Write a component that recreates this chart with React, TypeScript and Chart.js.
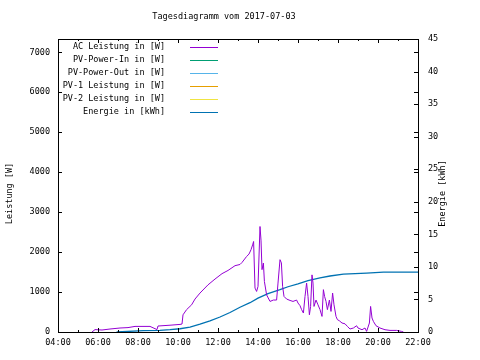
import { useEffect, useRef } from "react";
import { Chart, registerables } from "chart.js";

Chart.register(...registerables);

const TITLE = "Tagesdiagramm vom 2017-07-03";
const LEFT_AXIS_TITLE = "Leistung [W]";
const RIGHT_AXIS_TITLE = "Energie [kWh]";

// time in hours of day
const acTimes = [
  5.7, 5.85, 6.2, 6.6, 7.1, 7.5, 7.85, 8.3, 8.6, 8.95, 9.0, 9.6, 10.1, 10.2, 10.25, 10.43, 10.68, 10.85,
  11.1, 11.5, 11.85, 12.2, 12.5, 12.85, 13.1, 13.2, 13.43, 13.55, 13.65, 13.73, 13.78, 13.85, 13.93, 14.0,
  14.1, 14.15, 14.2, 14.27, 14.32, 14.43, 14.6, 14.77, 14.93, 15.0, 15.1, 15.17, 15.23, 15.3, 15.43, 15.6,
  15.75, 15.93, 16.0, 16.1, 16.18, 16.27, 16.35, 16.43, 16.5, 16.57, 16.63, 16.7, 16.75, 16.8, 16.9, 17.0,
  17.1, 17.2, 17.27, 17.33, 17.4, 17.47, 17.57, 17.65, 17.73, 17.8, 17.9, 17.97, 18.07, 18.2, 18.35, 18.47,
  18.6, 18.77, 18.93, 19.0, 19.2, 19.35, 19.43, 19.57, 19.63, 19.7, 19.77, 19.9, 20.1, 20.35, 20.6, 20.93,
  21.18, 21.27,
];
const acPower = [
  0, 60, 50, 75, 100, 110, 140, 140, 140, 60, 150, 170, 190, 200, 430, 560, 680, 825,
  975, 1180, 1325, 1460, 1540, 1660, 1690, 1740, 1890, 1950, 2060, 2180, 2265, 1100, 1015, 1140,
  2640, 2300, 1560, 1725, 1265, 930, 765, 800, 800, 1225, 1810, 1730, 1140, 890, 825, 790,
  765, 800, 725, 660, 560, 475, 890, 1225, 890, 430, 640, 1430, 1225, 640, 800, 680,
  560, 390, 1060, 890, 765, 560, 800, 515, 975, 680, 390, 310, 280, 225, 205, 140,
  75, 100, 157, 100, 57, 100, 15, 225, 640, 350, 265, 157, 100, 57, 40, 40,
  15, 0,
];

const energyTimes = [
  6.93, 8.27, 9.1, 9.6, 10.1, 10.6, 11.1, 11.6, 12.1, 12.6, 13.1, 13.6, 14.0, 14.5, 15.1, 15.5,
  16.0, 16.5, 17.1, 17.6, 18.27, 19.43, 20.27, 22.0,
];
const energyKWh = [
  0, 0.2, 0.25, 0.35, 0.5, 0.75, 1.2, 1.7, 2.3, 3.0, 3.8, 4.5, 5.2, 5.9, 6.5, 6.95,
  7.4, 7.9, 8.3, 8.6, 8.9, 9.05, 9.2, 9.2,
];

const seriesLabels = [
  "AC Leistung in [W]",
  "PV-Power-In in [W]",
  "PV-Power-Out in [W]",
  "PV-1 Leistung in [W]",
  "PV-2 Leistung in [W]",
  "Energie in [kWh]",
];
const seriesColors = ["#9400D3", "#009E73", "#56B4E9", "#E69F00", "#F0E442", "#0072B2"];

const hourTicks = [4, 6, 8, 10, 12, 14, 16, 18, 20, 22];
const powerTicks = [0, 1000, 2000, 3000, 4000, 5000, 6000, 7000];
const energyTicks = [0, 5, 10, 15, 20, 25, 30, 35, 40, 45];
const X_MIN = 4;
const X_MAX = 22;
const POWER_MAX = 7333;
const ENERGY_MAX = 45;

const FONT = "DejaVu Sans Mono";
const FONT_SIZE = 8.5;

const fmtHour = (v: number) => `${String(Math.round(v)).padStart(2, "0")}:00`;

const gnuplotPlugin = {
  id: "gnuplotDecor",
  afterDatasetsDraw(chart: any) {
    const { ctx, chartArea: a, scales } = chart;
    const x = scales.x;
    const y = scales.y;
    const y2 = scales.y2;
    ctx.save();
    ctx.strokeStyle = "#000";
    ctx.lineWidth = 1;
    ctx.strokeRect(a.left + 0.5, a.top + 0.5, a.right - a.left, a.bottom - a.top);
    ctx.beginPath();
    for (let h = X_MIN; h <= X_MAX; h += 1) {
      const px = Math.round(x.getPixelForValue(h)) + 0.5;
      const len = hourTicks.includes(h) ? 4 : 2;
      ctx.moveTo(px, a.bottom);
      ctx.lineTo(px, a.bottom - len);
      ctx.moveTo(px, a.top);
      ctx.lineTo(px, a.top + len);
    }
    powerTicks.forEach((v) => {
      const py = Math.round(y.getPixelForValue(v)) + 0.5;
      ctx.moveTo(a.left, py);
      ctx.lineTo(a.left + 4, py);
      ctx.moveTo(a.right, py);
      ctx.lineTo(a.right - 4, py);
    });
    energyTicks.forEach((v) => {
      const py = Math.round(y2.getPixelForValue(v)) + 0.5;
      ctx.moveTo(a.right, py);
      ctx.lineTo(a.right - 4, py);
    });
    ctx.stroke();

    ctx.font = `${FONT_SIZE}px "${FONT}"`;
    ctx.fillStyle = "#000";
    ctx.textBaseline = "middle";
    ctx.textAlign = "right";
    chart.data.datasets.forEach((ds: any, i: number) => {
      const ry = a.top + 8 + i * 13;
      ctx.fillText(ds.label, a.left + 107, ry);
      ctx.beginPath();
      ctx.strokeStyle = ds.borderColor;
      ctx.lineWidth = 1;
      ctx.moveTo(a.left + 132, Math.round(ry) + 0.5);
      ctx.lineTo(a.left + 160, Math.round(ry) + 0.5);
      ctx.stroke();
    });

    ctx.textAlign = "center";
    ctx.fillStyle = "#000";
    ctx.fillText(TITLE, (a.left + a.right) / 2 - 14, 17);

    const midY = (a.top + a.bottom) / 2 + 8;
    ctx.save();
    ctx.translate(a.left - 48, midY);
    ctx.rotate(-Math.PI / 2);
    ctx.fillText(LEFT_AXIS_TITLE, 0, 0);
    ctx.restore();
    ctx.save();
    ctx.translate(a.right + 25, midY);
    ctx.rotate(-Math.PI / 2);
    ctx.fillText(RIGHT_AXIS_TITLE, 0, 0);
    ctx.restore();
    ctx.restore();
  },
};

export default function App() {
  const ref = useRef<HTMLCanvasElement | null>(null);
  useEffect(() => {
    if (!ref.current) return;
    const acData = acTimes.map((t, i) => ({ x: t, y: acPower[i] }));
    const enData = energyTimes.map((t, i) => ({ x: t, y: energyKWh[i] }));
    const datasets = seriesLabels.map((label, i) => {
      const isEnergy = i === seriesLabels.length - 1;
      return {
        label,
        data: i === 0 ? acData : isEnergy ? enData : [],
        borderColor: seriesColors[i],
        backgroundColor: seriesColors[i],
        borderWidth: isEnergy ? 1.3 : 1,
        pointRadius: 0,
        tension: 0,
        fill: false,
        yAxisID: isEnergy ? "y2" : "y",
      };
    });
    const tickFont = { family: FONT, size: FONT_SIZE };
    const chart = new Chart(ref.current, {
      type: "line",
      data: { datasets } as any,
      plugins: [gnuplotPlugin],
      options: {
        animation: false,
        responsive: false,
        devicePixelRatio: 1,
        layout: { padding: { top: 39, left: 0, right: 0, bottom: 0 } },
        plugins: { legend: { display: false }, title: { display: false }, tooltip: { enabled: false } },
        scales: {
          x: {
            type: "linear",
            min: X_MIN,
            max: X_MAX,
            grid: { display: false, drawTicks: false },
            border: { display: false },
            afterBuildTicks: (s: any) => {
              s.ticks = hourTicks.map((v) => ({ value: v }));
            },
            ticks: {
              color: "#000",
              font: tickFont,
              padding: 6,
              maxRotation: 0,
              autoSkip: false,
              callback: (v: any) => fmtHour(Number(v)),
            },
            afterFit: (s: any) => {
              s.height = 28;
            },
          },
          y: {
            type: "linear",
            position: "left",
            min: 0,
            max: POWER_MAX,
            grid: { display: false, drawTicks: false },
            border: { display: false },
            afterBuildTicks: (s: any) => {
              s.ticks = powerTicks.map((v) => ({ value: v }));
            },
            ticks: { color: "#000", font: tickFont, padding: 8, autoSkip: false, callback: (v: any) => String(v) },
            afterFit: (s: any) => {
              s.width = 58;
            },
          },
          y2: {
            type: "linear",
            position: "right",
            min: 0,
            max: ENERGY_MAX,
            grid: { display: false, drawTicks: false },
            border: { display: false },
            afterBuildTicks: (s: any) => {
              s.ticks = energyTicks.map((v) => ({ value: v }));
            },
            ticks: { color: "#000", font: tickFont, padding: 10, autoSkip: false, callback: (v: any) => String(v) },
            afterFit: (s: any) => {
              s.width = 62;
            },
          },
        },
      } as any,
    });
    return () => chart.destroy();
  }, []);
  return (
    <div style={{ position: "absolute", left: 0, top: 0, width: 480, height: 360, background: "#fff" }}>
      <canvas ref={ref} width={480} height={360} style={{ display: "block" }} />
    </div>
  );
}
